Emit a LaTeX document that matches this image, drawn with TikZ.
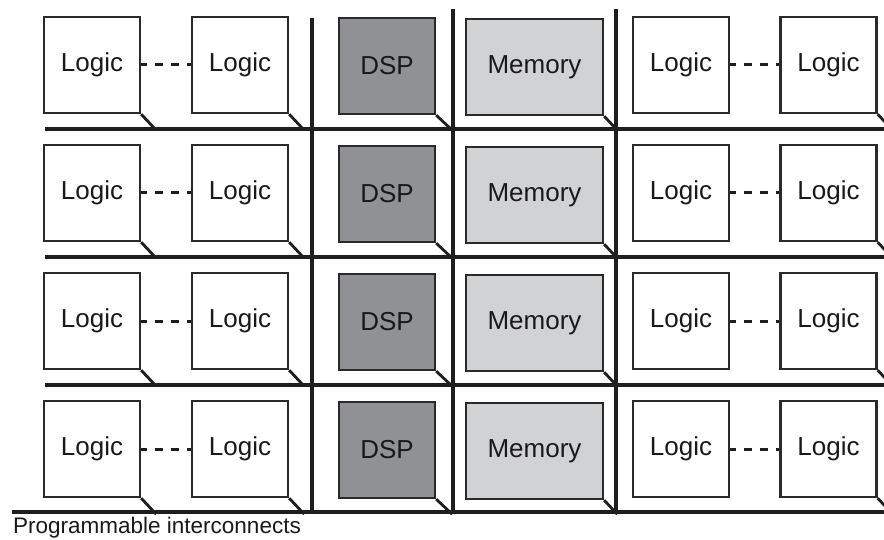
\documentclass[tikz,border=0pt]{standalone}
\usepackage{fontspec}
\setmainfont{Liberation Sans}
\definecolor{boxline}{HTML}{2A2A2A}
\definecolor{wire}{HTML}{1E1E1E}
\definecolor{dspfill}{HTML}{909194}
\definecolor{memfill}{HTML}{D1D2D4}
\tikzset{
  blk/.style={draw=boxline, line width=2.3pt, inner sep=0pt, minimum height=96pt,
    font=\fontsize{26}{30}\selectfont, text=black!90},
  logicbox/.style={blk, fill=white, minimum width=96pt},
  dspbox/.style={blk, fill=dspfill, minimum width=96pt},
  membox/.style={blk, fill=memfill, minimum width=137pt},
  wireline/.style={draw=wire, line width=3.4pt},
  tab/.style={draw=wire, line width=2.8pt},
  dashlink/.style={draw=wire, line width=3pt, dash pattern=on 8pt off 8pt, dash phase=2pt}
}
\begin{document}
\begin{tikzpicture}[x=1pt, y=-1pt]
\useasboundingbox (0,0) rectangle (884,540);
% interconnect wires
\foreach \r in {0,1,2} {
  \draw[wireline] (45,{129+128*\r}) -- (884,{129+128*\r});
}
\draw[wireline] (12,512) -- (884,512);
\draw[wireline] (312,18) -- (312,512);
\draw[wireline] (453,9) -- (453,512);
\draw[wireline] (616,9) -- (616,512);
% blocks
\foreach \r in {0,1,2,3} {
  \pgfmathsetmacro{\yo}{128*\r}
  \node[logicbox] (la\r) at (92,{65+\yo}) {Logic};
  \node[logicbox] (lb\r) at (240,{65+\yo}) {Logic};
  \node[dspbox]   (ds\r) at (387,{66+\yo}) {DSP};
  \node[membox]   (me\r) at (534.5,{67+\yo}) {Memory};
  \node[logicbox] (lc\r) at (681,{65+\yo}) {Logic};
  \node[logicbox] (ld\r) at (828.5,{65+\yo}) {Logic};
  \draw[dashlink] (la\r.east) -- (lb\r.west);
  \draw[dashlink] (lc\r.east) -- (ld\r.west);
  \draw[tab] (la\r.south east) -- +(15,16);
  \draw[tab] (lb\r.south east) -- +(15,16);
  \draw[tab] (ds\r.south east) -- +(16,15);
  \draw[tab] (me\r.south east) -- +(13,14);
  \draw[tab] (ld\r.south east) -- +(15,16);
}
\node[anchor=base west, inner sep=0pt, font=\fontsize{22.5}{26}\selectfont, text=black!90] (cap) at (13,533) {Programmable interconnects};
\end{tikzpicture}
\end{document}
